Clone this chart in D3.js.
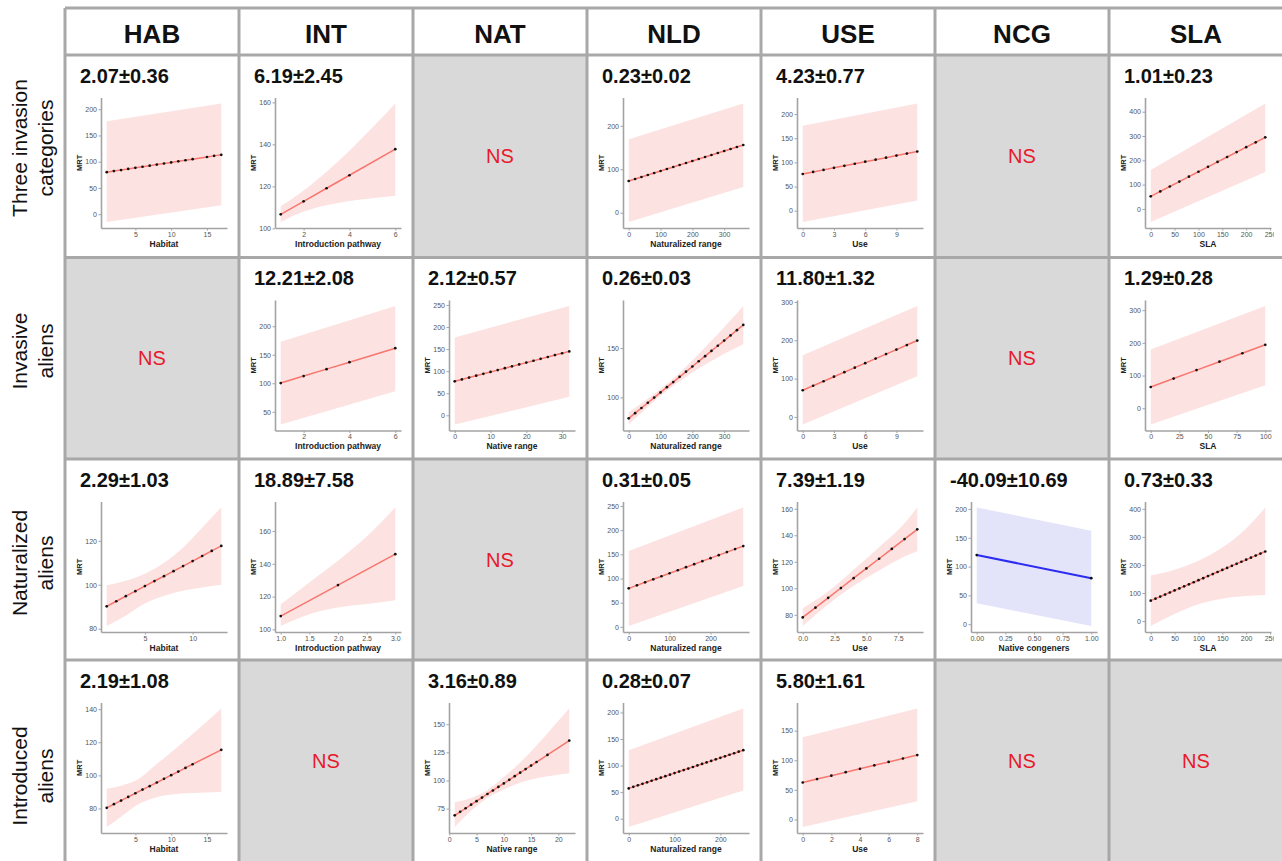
<!DOCTYPE html>
<html>
<head>
<meta charset="utf-8">
<script src="https://cdn.jsdelivr.net/npm/d3@7"></script>
<style>
  html, body { margin: 0; padding: 0; background: #fff; }
  svg { display: block; font-family: "Liberation Sans", Arial, Helvetica, sans-serif; }
</style>
</head>
<body>
<svg id="chart" width="1282" height="861"></svg>
<script>
// Table headers and row labels
const colKeys = ["HAB", "INT", "NAT", "NLD", "USE", "NCG", "SLA"];
const xTitles = ["Habitat", "Introduction pathway", "Native range", "Naturalized range", "Use", "Native congeners", "SLA"];
const rowNames = [["Three invasion", "categories"], ["Invasive", "aliens"], ["Naturalized", "aliens"], ["Introduced", "aliens"]];
const nsText = "NS";

// Fitted MRT per predictor: points on the fitted line (x, y) and the band (bandX, lo, hi)
const habThree = { row: 0, col: "HAB", est: "2.07±0.36",
  x: [1, 2, 3, 4, 5, 6, 7, 8, 9, 10, 11, 12, 13, 15, 16, 17],
  y: [80, 82.1, 84.1, 86.2, 88.3, 90.4, 92.4, 94.5, 96.6, 98.6, 100.7, 102.8, 104.8, 109, 111.1, 113.1],
  bandX: [1, 17], lo: [-15, 17], hi: [177, 211],
  xTicks: ["5", "10", "15"], yTicks: ["0", "50", "100", "150", "200"] };

const intThree = { row: 0, col: "INT", est: "6.19±2.45",
  x: [1, 2, 3, 4, 6], y: [106.7, 112.9, 119.1, 125.3, 137.7],
  bandX: [1, 2, 3, 4, 5, 6], lo: [103, 108, 111, 113, 114.3, 115.5], hi: [110.5, 118, 127, 137, 148, 159.5],
  xTicks: ["2", "4", "6"], yTicks: ["100", "120", "140", "160"] };

const nldThree = { row: 0, col: "NLD", est: "0.23±0.02",
  x: [0, 20, 40, 60, 80, 100, 120, 140, 160, 180, 200, 220, 240, 260, 280, 300, 320, 340, 360],
  y: [73, 77.6, 82.2, 86.8, 91.4, 96, 100.6, 105.2, 109.8, 114.4, 119, 123.6, 128.2, 132.8, 137.4, 142, 146.6, 151.2, 155.8],
  bandX: [0, 360], lo: [-21.5, 59], hi: [169, 251.5],
  xTicks: ["0", "100", "200", "300"], yTicks: ["0", "100", "200"] };

const useThree = { row: 0, col: "USE", est: "4.23±0.77",
  x: [0, 1, 2, 3, 4, 5, 6, 7, 8, 9, 10, 11],
  y: [76, 80.2, 84.5, 88.7, 92.9, 97.2, 101.4, 105.6, 109.8, 114.1, 118.3, 122.5],
  bandX: [0, 11], lo: [-23.5, 21], hi: [175.6, 222],
  xTicks: ["0", "3", "6", "9"], yTicks: ["0", "50", "100", "150", "200"] };

const slaThree = { row: 0, col: "SLA", est: "1.01±0.23",
  x: [0, 20, 40, 60, 80, 100, 120, 140, 160, 180, 200, 220, 240],
  y: [52, 72.2, 92.4, 112.6, 132.8, 153, 173.2, 193.4, 213.6, 233.8, 254, 274.2, 294.4],
  bandX: [0, 240], lo: [-54, 152], hi: [160, 434],
  xTicks: ["0", "50", "100", "150", "200", "250"], yTicks: ["0", "100", "200", "300", "400"] };

const intInv = { row: 1, col: "INT", est: "12.21±2.08",
  x: [1, 2, 3, 4, 6], y: [100.4, 112.6, 124.8, 137, 161.5],
  bandX: [1, 6], lo: [27.6, 86], hi: [172.6, 235.6],
  xTicks: ["2", "4", "6"], yTicks: ["50", "100", "150", "200"] };

const natInv = { row: 1, col: "NAT", est: "2.12±0.57",
  x: [0, 2, 4, 6, 8, 10, 12, 14, 16, 18, 20, 22, 24, 26, 28, 30, 32],
  y: [77, 81.2, 85.5, 89.7, 94, 98.2, 102.4, 106.7, 110.9, 115.2, 119.4, 123.6, 127.9, 132.1, 136.4, 140.6, 144.8],
  bandX: [0, 32], lo: [-21, 42], hi: [176.5, 247.8],
  xTicks: ["0", "10", "20", "30"], yTicks: ["0", "50", "100", "150", "200", "250"] };

const nldInv = { row: 1, col: "NLD", est: "0.26±0.03",
  x: [0, 20, 40, 60, 80, 100, 120, 140, 160, 180, 200, 220, 240, 260, 280, 300, 320, 340, 360],
  y: [78.7, 84, 89.2, 94.5, 99.8, 105, 110.3, 115.5, 120.8, 126, 131.3, 136.6, 141.8, 147.1, 152.3, 157.6, 162.8, 168.1, 173.4],
  bandX: [0, 50, 100, 150, 200, 250, 300, 360],
  lo: [72.4, 87.3, 101.5, 114, 125.3, 135, 144.1, 153.9],
  hi: [85, 96.3, 108.5, 122, 137.3, 154, 171.1, 192.7],
  xTicks: ["0", "100", "200", "300"], yTicks: ["100", "150"] };

const useInv = { row: 1, col: "USE", est: "11.80±1.32",
  x: [0, 1, 2, 3, 4, 5, 6, 7, 8, 9, 10, 11],
  y: [69.5, 81.3, 93.1, 104.9, 116.7, 128.5, 140.3, 152.1, 163.9, 175.7, 187.5, 199.3],
  bandX: [0, 11], lo: [-20, 106], hi: [161, 289.6],
  xTicks: ["0", "3", "6", "9"], yTicks: ["0", "100", "200", "300"] };

const slaInv = { row: 1, col: "SLA", est: "1.29±0.28",
  x: [0, 20, 40, 60, 80, 100], y: [65, 90.8, 116.6, 142.4, 168.2, 194],
  bandX: [0, 100], lo: [-50, 70], hi: [179.6, 313],
  xTicks: ["0", "25", "50", "75", "100"], yTicks: ["0", "100", "200", "300"] };

const habNat = { row: 2, col: "HAB", est: "2.29±1.03",
  x: [1, 2, 3, 4, 5, 6, 7, 8, 9, 10, 11, 12, 13],
  y: [90.2, 92.5, 94.8, 97.1, 99.4, 101.7, 103.9, 106.2, 108.5, 110.8, 113.1, 115.4, 117.7],
  bandX: [1, 3, 5, 7, 9, 11, 13],
  lo: [81.2, 86, 91.5, 95, 97.3, 98.8, 100],
  hi: [99.8, 101.8, 105, 110, 117, 126, 135.2],
  xTicks: ["5", "10"], yTicks: ["80", "100", "120"] };

const intNat = { row: 2, col: "INT", est: "18.89±7.58",
  x: [1, 2, 3], y: [108.1, 127, 145.9],
  bandX: [1, 1.5, 2, 2.5, 3], lo: [102, 109.2, 113.3, 115.5, 117.8], hi: [115.3, 128.6, 141.8, 156.6, 174.4],
  xTicks: ["1.0", "1.5", "2.0", "2.5", "3.0"], yTicks: ["100", "120", "140", "160"] };

const nldNat = { row: 2, col: "NLD", est: "0.31±0.05",
  x: [0, 20, 40, 60, 80, 100, 120, 140, 160, 180, 200, 220, 240, 260, 280],
  y: [79.7, 85.9, 92.2, 98.4, 104.7, 110.9, 117.1, 123.4, 129.6, 135.9, 142.1, 148.3, 154.6, 160.8, 167.1],
  bandX: [0, 280], lo: [1.7, 84.8], hi: [157, 247],
  xTicks: ["0", "100", "200"], yTicks: ["0", "50", "100", "150", "200", "250"] };

const useNat = { row: 2, col: "USE", est: "7.39±1.19",
  x: [0, 1, 2, 3, 4, 5, 6, 7, 8, 9],
  y: [78, 85.4, 92.8, 100.2, 107.6, 115, 122.3, 129.7, 137.1, 144.5],
  bandX: [0, 2, 4, 6, 8, 9], lo: [71.5, 88, 102, 113.5, 124, 128], hi: [85, 97.5, 114, 131, 149, 161],
  xTicks: ["0.0", "2.5", "5.0", "7.5"], yTicks: ["80", "100", "120", "140", "160"] };

const ncgNat = { row: 2, col: "NCG", est: "-40.09±10.69", negative: true,
  x: [0, 1], y: [120, 79.9],
  bandX: [0, 1], lo: [36.6, -3.2], hi: [202.6, 162.2],
  xTicks: ["0.00", "0.25", "0.50", "0.75", "1.00"], yTicks: ["0", "50", "100", "150", "200"] };

const slaNat = { row: 2, col: "SLA", est: "0.73±0.33",
  x: [0, 10, 20, 30, 40, 50, 60, 70, 80, 90, 100, 110, 120, 130, 140, 150, 160, 170, 180, 190, 200, 210, 220, 230, 240],
  y: [72.7, 80, 87.3, 94.6, 101.9, 109.2, 116.5, 123.8, 131.1, 138.4, 145.7, 153, 160.3, 167.6, 174.9, 182.2, 189.5, 196.8, 204.1, 211.4, 218.7, 226, 233.3, 240.6, 247.9],
  bandX: [0, 50, 100, 150, 200, 240], lo: [-17.8, 25, 60, 80, 89, 93], hi: [162, 183, 215, 262, 330, 405],
  xTicks: ["0", "50", "100", "150", "200", "250"], yTicks: ["0", "100", "200", "300", "400"] };

const habIntro = { row: 3, col: "HAB", est: "2.19±1.08",
  x: [1, 2, 3, 4, 5, 6, 7, 8, 9, 10, 11, 12, 13, 17],
  y: [80.4, 82.6, 84.8, 87, 89.2, 91.4, 93.5, 95.7, 97.9, 100.1, 102.3, 104.5, 106.7, 115.4],
  bandX: [1, 3, 5, 8, 10, 13, 17],
  lo: [68.8, 75, 81.5, 86.8, 88.4, 89.3, 90],
  hi: [92, 93.8, 96.7, 106.9, 114, 125, 140.4],
  xTicks: ["5", "10", "15"], yTicks: ["80", "100", "120", "140"] };

const natIntro = { row: 3, col: "NAT", est: "3.16±0.89",
  x: [1, 2, 3, 4, 5, 6, 7, 8, 9, 10, 11, 12, 13, 14, 15, 16, 18, 22],
  y: [69, 72.2, 75.3, 78.5, 81.6, 84.8, 88, 91.1, 94.3, 97.4, 100.6, 103.8, 106.9, 110.1, 113.2, 116.4, 122.7, 135.4],
  bandX: [1, 4, 7, 10, 13, 16, 19, 22],
  lo: [58.6, 73, 84.5, 92, 98, 102, 104.5, 106.5],
  hi: [80.7, 84.5, 91.5, 103, 116, 131, 147.5, 164],
  xTicks: ["0", "5", "10", "15", "20"], yTicks: ["75", "100", "125", "150"] };

const nldIntro = { row: 3, col: "NLD", est: "0.28±0.07",
  x: [0, 10, 20, 30, 40, 50, 60, 70, 80, 90, 100, 110, 120, 130, 140, 150, 160, 170, 180, 190, 200, 210, 220, 230, 240, 250],
  y: [57, 59.9, 62.8, 65.6, 68.5, 71.4, 74.3, 77.2, 80, 82.9, 85.8, 88.7, 91.6, 94.4, 97.3, 100.2, 103.1, 106, 108.8, 111.7, 114.6, 117.5, 120.4, 123.2, 126.1, 129],
  bandX: [0, 250], lo: [-15.8, 53], hi: [128.7, 207.6],
  xTicks: ["0", "100", "200"], yTicks: ["0", "50", "100", "150", "200"] };

const useIntro = { row: 3, col: "USE", est: "5.80±1.61",
  x: [0, 1, 2, 3, 4, 5, 6, 7, 8],
  y: [62.4, 68.2, 74, 79.8, 85.6, 91.4, 97.2, 103, 108.8],
  bandX: [0, 8], lo: [-12.9, 30.9], hi: [138.8, 187.6],
  xTicks: ["0", "2", "4", "6", "8"], yTicks: ["0", "50", "100", "150"] };

const panels = [habThree, intThree, nldThree, useThree, slaThree,
  intInv, natInv, nldInv, useInv, slaInv,
  habNat, intNat, nldNat, useNat, ncgNat, slaNat,
  habIntro, natIntro, nldIntro, useIntro];

// ---- layout of the table ----
const colX = [65, 239, 413, 587, 761, 935, 1109];
const colW = 174;
const rowY = [55, 257.5, 459, 660];
const rowH = [202.5, 201.5, 201, 202];
const headerTop = 8;
const gridColor = "#a8a8a8";

const svg = d3.select("#chart");
const defs = svg.append("defs");

// cell backgrounds: white when a panel exists, grey otherwise
svg.append("rect").attr("x", colX[0]).attr("y", headerTop).attr("width", 1282 - colX[0]).attr("height", rowY[0] - headerTop).attr("fill", "#fff");
rowY.forEach((ry, r) => {
  colKeys.forEach((key, c) => {
    const has = panels.some(p => p.row === r && p.col === key);
    svg.append("rect").attr("x", colX[c]).attr("y", ry).attr("width", colW).attr("height", rowH[r])
      .attr("fill", has ? "#fff" : "#d9d9d9");
    if (!has) {
      svg.append("text").attr("x", colX[c] + colW / 2).attr("y", ry + rowH[r] / 2 + 7)
        .attr("text-anchor", "middle").attr("font-size", 20).attr("fill", "#e8192c").text(nsText);
    }
  });
});

// column headers
colKeys.forEach((key, c) => {
  svg.append("text").attr("x", colX[c] + colW / 2).attr("y", 43).attr("text-anchor", "middle")
    .attr("font-size", 26).attr("font-weight", "bold").attr("fill", "#111").text(key);
});

// row labels, rotated, two lines
const rowCentres = [148, 351, 563, 776];
rowNames.forEach((lines, r) => {
  const g = svg.append("g").attr("transform", `translate(27,${rowCentres[r]}) rotate(-90)`);
  lines.forEach((t, i) => {
    g.append("text").attr("x", 0).attr("y", i * 26).attr("text-anchor", "middle")
      .attr("font-size", 21).attr("fill", "#111").text(t);
  });
});

// one small regression plot per panel
function drawPanel(p) {
  const c = colKeys.indexOf(p.col);
  const id = `clip-${p.row}-${c}`;
  defs.append("clipPath").attr("id", id).append("rect").attr("x", 0).attr("y", 0).attr("width", 165).attr("height", rowH[p.row]);
  const g = svg.append("g").attr("transform", `translate(${colX[c]},${rowY[p.row]})`).attr("clip-path", `url(#${id})`);

  g.append("text").attr("x", 15).attr("y", 27.5).attr("font-size", 20).attr("font-weight", "bold")
    .attr("fill", "#111").text(p.est);

  const pad = ext => { const d = (ext[1] - ext[0]) * 0.05; return [ext[0] - d, ext[1] + d]; };
  const xDom = pad(d3.extent(p.x.concat(p.bandX)));
  const yDom = pad(d3.extent(p.y.concat(p.lo, p.hi)));
  const left = 36, right = 162, top = 42.5, bottom = 173;
  const x = d3.scaleLinear().domain(xDom).range([left, right]);
  const y = d3.scaleLinear().domain(yDom).range([bottom, top]);

  const lineColor = p.negative ? "#2b2bf2" : "#f8766d";
  const bandColor = p.negative ? "#e3e3fa" : "#fde2e2";

  const band = p.bandX.map((v, i) => ({ x: v, lo: p.lo[i], hi: p.hi[i] }));
  const area = d3.area().x(d => x(d.x)).y0(d => y(d.lo)).y1(d => y(d.hi))
    .curve(band.length > 2 ? d3.curveMonotoneX : d3.curveLinear);
  g.append("path").datum(band).attr("d", area).attr("fill", bandColor);

  const pts = p.x.map((v, i) => ({ x: v, y: p.y[i] }));
  g.append("path").datum(pts).attr("d", d3.line().x(d => x(d.x)).y(d => y(d.y)))
    .attr("fill", "none").attr("stroke", lineColor).attr("stroke-width", p.negative ? 2 : 1.5);
  g.selectAll("circle.pt").data(pts).join("circle").attr("class", "pt")
    .attr("cx", d => x(d.x)).attr("cy", d => y(d.y)).attr("r", 1.35).attr("fill", "#111");

  const styleAxis = ax => {
    ax.attr("font-family", null).attr("font-size", null);
    ax.select(".domain").attr("stroke", "#a3a3a3").attr("stroke-width", 1.6);
    ax.selectAll(".tick line").attr("stroke", "#a3a3a3");
    ax.selectAll(".tick text").attr("font-size", 7).attr("fill", "#555");
  };

  const xAxis = d3.axisBottom(x).tickValues(p.xTicks.map(Number))
    .tickFormat((d, i) => p.xTicks[i]).tickSize(2.5).tickSizeOuter(0).tickPadding(1.5);
  g.append("g").attr("transform", `translate(0,${bottom})`).call(xAxis).call(styleAxis);

  const yAxis = d3.axisLeft(y).tickValues(p.yTicks.map(Number))
    .tickFormat((d, i) => p.yTicks[i]).tickSize(2.5).tickSizeOuter(0).tickPadding(1.5);
  g.append("g").attr("transform", `translate(${left},0)`).call(yAxis).call(styleAxis);

  g.append("text").attr("x", (left + right) / 2).attr("y", bottom + 18.5).attr("text-anchor", "middle")
    .attr("font-size", 8.5).attr("font-weight", "bold").attr("fill", "#222").text(xTitles[c]);
  g.append("text").attr("transform", `translate(17,${(top + bottom) / 2}) rotate(-90)`)
    .attr("text-anchor", "middle").attr("font-size", 7.5).attr("font-weight", "bold").attr("fill", "#222").text("MRT");
}
panels.forEach(drawPanel);

// grid lines of the table
const grid = svg.append("g").attr("stroke", gridColor).attr("stroke-width", 3);
colX.forEach(cx => grid.append("line").attr("x1", cx).attr("x2", cx).attr("y1", headerTop).attr("y2", 861));
[headerTop].concat(rowY).forEach(ry => grid.append("line").attr("x1", colX[0]).attr("x2", 1282).attr("y1", ry).attr("y2", ry));
</script>
</body>
</html>
